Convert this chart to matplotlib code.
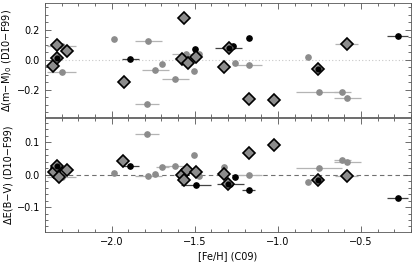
import numpy as np
import matplotlib
matplotlib.use('Agg')
import matplotlib.pyplot as plt
from matplotlib.ticker import MultipleLocator

# ---- top panel: Delta (m-M)_0 ----
top_gc_feh = [-2.30, -2.30, -1.984, -1.778, -1.737, -1.695, -1.787, -1.617, -1.555, -1.472, -1.507, -1.255, -1.175, -0.817, -0.753, -0.613, -0.583]
top_gc_err = [0.085, 0.085, 0.0, 0.08, 0.08, 0.0, 0.07, 0.08, 0.08, 0.0, 0.0, 0.0, 0.08, 0.0, 0.14, 0.05, 0.08]
top_gc_val = [-0.078, 0.09, 0.14, 0.125, -0.067, -0.025, -0.295, -0.127, 0.038, 0.038, -0.073, -0.022, -0.036, 0.018, -0.213, -0.213, -0.255]

top_bc_feh = [-1.888, -1.496, -1.175, -1.296, -1.269, -0.281]
top_bc_err = [0.052, 0.0, 0.0, 0.08, 0.0, 0.065]
top_bc_val = [0.007, 0.075, 0.145, 0.082, 0.095, 0.162]

top_gd_feh = [-2.326, -2.266, -2.35, -1.924, -1.567, -1.577, -1.543, -1.493, -1.326, -1.175, -1.025, -0.587]
top_gd_err = [0.0, 0.0, 0.0, 0.0, 0.0, 0.0, 0.0, 0.0, 0.0, 0.0, 0.0, 0.07]
top_gd_val = [0.10, 0.06, -0.038, -0.145, 0.282, 0.005, -0.022, 0.018, -0.049, -0.258, -0.267, 0.107]

top_mx_feh = [-2.326, -1.296, -0.757]
top_mx_val = [0.015, 0.078, -0.06]

# ---- bottom panel: Delta E(B-V) ----
bot_gc_feh = [-2.30, -1.984, -1.787, -1.778, -1.737, -1.695, -1.617, -1.507, -1.476, -1.326, -1.175, -0.613, -0.583, -0.753, -0.817]
bot_gc_err = [0.085, 0.0, 0.07, 0.08, 0.0, 0.04, 0.08, 0.0, 0.0, 0.0, 0.08, 0.05, 0.08, 0.14, 0.0]
bot_gc_val = [-0.008, 0.004, 0.127, -0.004, 0.002, 0.025, 0.028, 0.061, -0.003, 0.025, -0.001, 0.046, 0.038, 0.022, -0.024]

bot_bc_feh = [-1.888, -1.493, -1.26, -1.175, -1.31, -1.285, -0.281]
bot_bc_err = [0.052, 0.09, 0.0, 0.04, 0.0, 0.08, 0.065]
bot_bc_val = [0.026, -0.032, -0.008, -0.047, -0.029, -0.029, -0.071]

bot_gd_feh = [-2.326, -2.266, -2.346, -2.318, -1.929, -1.577, -1.547, -1.567, -1.493, -1.326, -1.175, -1.025, -0.587]
bot_gd_err = [0.0, 0.0, 0.0, 0.0, 0.0, 0.0, 0.0, 0.0, 0.0, 0.0, 0.0, 0.0, 0.07]
bot_gd_val = [0.021, 0.015, 0.007, -0.008, 0.043, -0.001, 0.014, -0.018, 0.007, 0.002, 0.067, 0.091, -0.005]

bot_mx_feh = [-2.326, -1.30, -0.757]
bot_mx_val = [0.028, -0.029, -0.018]

plt.rcParams['font.size'] = 7

fig = plt.figure(figsize=(4.15, 2.67), dpi=100)
ax1 = fig.add_axes([0.1084, 0.5618, 0.882, 0.427])
ax2 = fig.add_axes([0.1084, 0.1311, 0.882, 0.427])

gray = '#8c8c8c'
lgray = '#b4b4b4'


def draw(ax, gc, bc, gd, mx):
    ax.errorbar(gc[0], gc[2], xerr=gc[1], fmt='o', ms=3.8, color=gray, ecolor=lgray,
                elinewidth=0.9, capsize=0, zorder=2)
    ax.errorbar(bc[0], bc[2], xerr=bc[1], fmt='o', ms=3.8, color='black', ecolor='#444444',
                elinewidth=0.9, capsize=0, zorder=3)
    ax.errorbar(gd[0], gd[2], xerr=gd[1], fmt='D', ms=6.3, mfc=gray, mec='black', mew=1.2,
                ecolor=lgray, elinewidth=0.9, capsize=0, zorder=4)
    ax.plot(mx[0], mx[1], 'D', ms=6.3, mfc=gray, mec='black', mew=1.2, zorder=5)
    ax.plot(mx[0], mx[1], 'o', ms=3.4, color='black', zorder=6)


draw(ax1, (top_gc_feh, top_gc_err, top_gc_val), (top_bc_feh, top_bc_err, top_bc_val),
     (top_gd_feh, top_gd_err, top_gd_val), (top_mx_feh, top_mx_val))
draw(ax2, (bot_gc_feh, bot_gc_err, bot_gc_val), (bot_bc_feh, bot_bc_err, bot_bc_val),
     (bot_gd_feh, bot_gd_err, bot_gd_val), (bot_mx_feh, bot_mx_val))

ax1.axhline(0, color='#c8c8c8', ls=(0, (1, 2)), lw=0.8, zorder=1)
ax2.axhline(0, color='#707070', ls=(0, (4, 3)), lw=0.8, zorder=1)

for ax in (ax1, ax2):
    ax.set_xlim(-2.4, -0.2)
    ax.xaxis.set_major_locator(MultipleLocator(0.5))
    ax.xaxis.set_minor_locator(MultipleLocator(0.1))
    ax.tick_params(which='both', direction='in', top=True, right=True, width=0.6, color='#555555')
    ax.tick_params(which='major', length=4)
    ax.tick_params(which='minor', length=2.5)
    for s in ax.spines.values():
        s.set_linewidth(0.6)
        s.set_color('#555555')

ax1.set_ylim(-0.38, 0.38)
ax1.yaxis.set_major_locator(MultipleLocator(0.2))
ax1.yaxis.set_minor_locator(MultipleLocator(0.05))
ax1.set_xticklabels([])
ax1.set_ylabel('Δ(m−M)$_0$ (D10−F99)')

ax2.set_ylim(-0.177, 0.175)
ax2.yaxis.set_major_locator(MultipleLocator(0.1))
ax2.yaxis.set_minor_locator(MultipleLocator(0.02))
ax2.set_ylabel('ΔE(B−V) (D10−F99)')
ax2.set_xlabel('[Fe/H] (C09)', labelpad=3)

ax1.yaxis.set_label_coords(-0.085, 0.5)
ax2.yaxis.set_label_coords(-0.085, 0.5)

fig.savefig('out.png', dpi=100)
